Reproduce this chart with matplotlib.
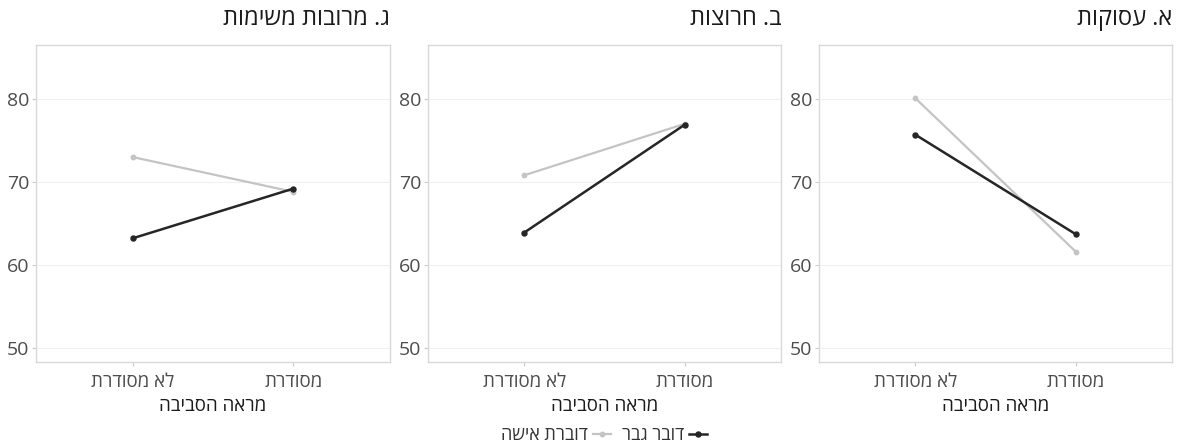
import matplotlib
matplotlib.use("Agg")
import matplotlib.pyplot as plt
from matplotlib.lines import Line2D

plt.rcParams['font.family'] = ['Open Sans', 'DejaVu Sans']

def vis(s):
    # matplotlib has no bidi: give the glyphs in visual (left-to-right) order
    return s[::-1]

categories = ["לא מסודרת", "מסודרת"]
xlabel = "מראה הסביבה"
series_names = ["דובר גבר", "דוברת אישה"]
titles = ["ג. מרובות משימות", "ב. חרוצות", "א. עסוקות"]
male = [[63.2, 69.2], [63.9, 76.9], [75.7, 63.7]]
female = [[73.0, 68.8], [70.8, 77.0], [80.1, 61.6]]
yticks = [50, 60, 70, 80]

colors = {"male": "#262626", "female": "#c4c4c4"}

fig = plt.figure(figsize=(11.8, 4.47), dpi=100)
W, H = 1180, 447
lefts = [36, 428, 819]
rights = [390, 781, 1172]
top, bottom = 45, 362

for i in range(3):
    ax = fig.add_axes([lefts[i] / W, 1 - bottom / H, (rights[i] - lefts[i]) / W, (bottom - top) / H])
    x = [1, 2]
    ax.plot(x, female[i], color=colors["female"], lw=1.6, marker='o', ms=3.2, zorder=3)
    ax.plot(x, male[i], color=colors["male"], lw=1.8, marker='o', ms=3.6, zorder=4)
    ax.set_xlim(0.4, 2.6)
    ax.set_ylim(48.3, 86.5)
    ax.set_yticks(yticks)
    ax.set_yticklabels([str(v) for v in yticks])
    ax.set_xticks(x)
    ax.set_xticklabels([vis(c) for c in categories])
    ax.grid(axis='y', color='#f0f0f0', lw=0.8)
    ax.set_axisbelow(True)
    for sp in ax.spines.values():
        sp.set_color('#d9d9d9')
        sp.set_linewidth(1.0)
    ax.tick_params(axis='both', colors='#cccccc', length=3, width=0.8, labelcolor='#4d4d4d')
    ax.tick_params(axis='y', labelsize=14, pad=2)
    ax.tick_params(axis='x', labelsize=13.5, pad=5)
    ax.set_xlabel(vis(xlabel), fontsize=13.5, color='#1a1a1a', labelpad=4)
    ax.text(1.0, 1.045, vis(titles[i]), transform=ax.transAxes, ha='right', va='bottom',
            fontsize=17, color='#1a1a1a')

handles = [
    Line2D([], [], color=colors["female"], lw=1.6, marker='o', ms=3.2),
    Line2D([], [], color=colors["male"], lw=1.8, marker='o', ms=3.6),
]
labels = [vis(series_names[1]), vis(series_names[0])]
fig.legend(handles, labels, loc='center', bbox_to_anchor=(604 / W, 1 - 435 / H), ncol=2,
           frameon=False, markerfirst=False, handlelength=1.0, handletextpad=0.3,
           columnspacing=0.6, fontsize=13, labelcolor='#333333')

fig.savefig("out.png", dpi=100)
